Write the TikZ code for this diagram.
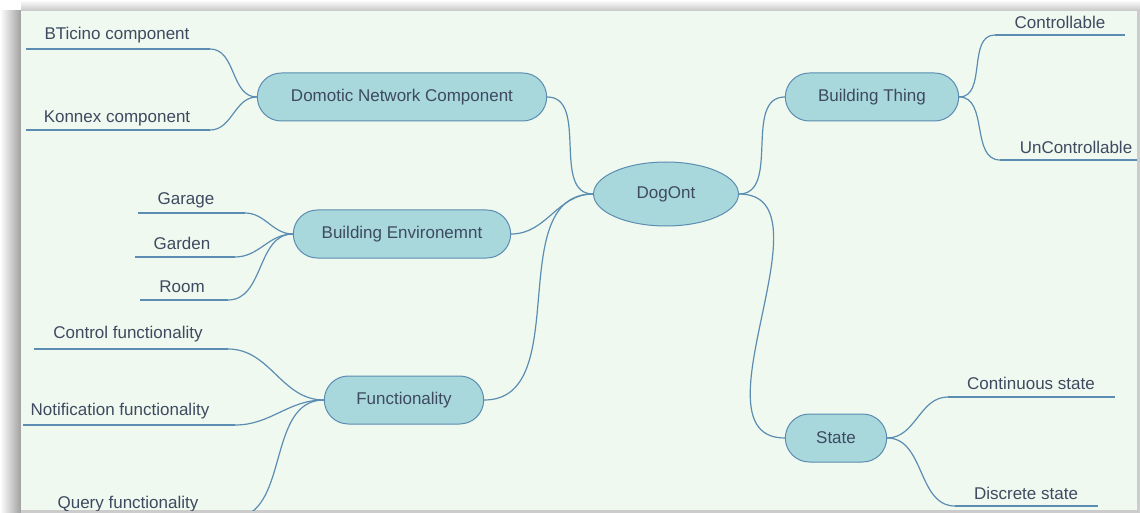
\documentclass[tikz,border=0pt]{standalone}
\usepackage{fontspec}
\setmainfont{Liberation Sans}
\usetikzlibrary{shapes.geometric,shapes.misc}
\definecolor{topicfill}{HTML}{A8D8DC}
\definecolor{edgeblue}{HTML}{5B8DB2}
\definecolor{inkgray}{HTML}{3D4A60}
\definecolor{panelbg}{HTML}{F0F9EF}

\begin{document}
\begin{tikzpicture}[x=1pt,y=-1pt,
        topic/.style={shape=rounded rectangle,draw=edgeblue,fill=topicfill,line width=1pt,
            minimum height=48pt,text=inkgray,font=\fontsize{17}{20}\selectfont},
        root/.style={shape=ellipse,draw=edgeblue,fill=topicfill,line width=1pt,
            minimum width=145pt,minimum height=64pt,text=inkgray,font=\fontsize{17}{20}\selectfont},
        leaf/.style={text=inkgray,font=\fontsize{17}{20}\selectfont,inner sep=0pt},
        link/.style={draw=edgeblue,line width=1.2pt}]

        % frame and shadow
        \useasboundingbox (0,0) rectangle (1140,513);
        \fill[white] (0,0) rectangle (1140,513);
        \shade[left color=white,right color=gray!75] (0,11) rectangle (21,513);
        \shade[top color=white,bottom color=gray!45] (21,0) rectangle (1140,11);
        \fill[gray!40] (1137,11) rectangle (1140,513);
        \fill[gray!40] (21,510) rectangle (1140,513);
        \fill[panelbg] (21,11) rectangle (1137,510);

        \begin{scope}
        \clip (21,11) rectangle (1137,510);

        % main topics
        \node[root] (dog) at (666,194) {DogOnt};
        \node[topic,minimum width=296pt] (dom)   at (402,97)  {Domotic Network Component};
        \node[topic,minimum width=180pt] (thing) at (872,97)  {Building Thing};
        \node[topic,minimum width=224pt] (env)   at (402,234) {Building Environemnt};
        \node[topic,minimum width=166pt] (func)  at (404,400) {Functionality};
        \node[topic,minimum width=108pt] (state) at (836,438) {State};

        % leaves
        \node[leaf] (btic)  at (117,35)  {BTicino component};
        \node[leaf] (knx)   at (117,118) {Konnex component};
        \node[leaf] (gar)   at (186,200) {Garage};
        \node[leaf] (gdn)   at (182,243) {Garden};
        \node[leaf] (room)  at (182,287) {Room};
        \node[leaf] (ctrl)  at (128,334) {Control functionality};
        \node[leaf] (notif) at (120,411) {Notification functionality};
        \node[leaf] (query) at (128,504) {Query functionality};
        \node[leaf] (cont)  at (1060,22) {Controllable};
        \node[leaf] (unc)   at (1076,147) {UnControllable};
        \node[leaf] (cst)   at (1031,383) {Continuous state};
        \node[leaf] (dst)   at (1026,493) {Discrete state};

        % underline ends
        \coordinate (btic-a)  at (26,49);   \coordinate (btic-b)  at (210,49);
        \coordinate (knx-a)   at (26,130);  \coordinate (knx-b)   at (210,130);
        \coordinate (gar-a)   at (138,213); \coordinate (gar-b)   at (245,213);
        \coordinate (gdn-a)   at (135,257); \coordinate (gdn-b)   at (235,257);
        \coordinate (room-a)  at (140,300); \coordinate (room-b)  at (228,300);
        \coordinate (ctrl-a)  at (34,349);  \coordinate (ctrl-b)  at (228,349);
        \coordinate (notif-a) at (23,425);  \coordinate (notif-b) at (235,425);
        \coordinate (query-a) at (50,518);  \coordinate (query-b) at (232,518);
        \coordinate (cont-a)  at (995,35);  \coordinate (cont-b)  at (1125,35);
        \coordinate (unc-a)   at (1000,160);\coordinate (unc-b)   at (1138,160);
        \coordinate (cst-a)   at (948,397); \coordinate (cst-b)   at (1115,397);
        \coordinate (dst-a)   at (955,506); \coordinate (dst-b)   at (1098,506);

        \draw[link] (btic-a) -- (btic-b);
        \draw[link] (knx-a) -- (knx-b);
        \draw[link] (gar-a) -- (gar-b);
        \draw[link] (gdn-a) -- (gdn-b);
        \draw[link] (room-a) -- (room-b);
        \draw[link] (ctrl-a) -- (ctrl-b);
        \draw[link] (notif-a) -- (notif-b);
        \draw[link] (query-a) -- (query-b);
        \draw[link] (cont-a) -- (cont-b);
        \draw[link] (unc-a) -- (unc-b);
        \draw[link] (cst-a) -- (cst-b);
        \draw[link] (dst-a) -- (dst-b);

        % branches
        \path[link] (dom.east) edge[out=0,in=180] (dog.west);
        \path[link] (env.east) edge[out=0,in=180] (dog.west);
        \path[link] (func.east) edge[out=0,in=180] (dog.west);
        \path[link] (dog.east) edge[out=0,in=180] (thing.west);
        \path[link] (dog.east) edge[out=0,in=180] (state.west);

        \path[link] (btic-b) edge[out=0,in=180] (dom.west);
        \path[link] (knx-b) edge[out=0,in=180] (dom.west);
        \path[link] (gar-b) edge[out=0,in=180] (env.west);
        \path[link] (gdn-b) edge[out=0,in=180] (env.west);
        \path[link] (room-b) edge[out=0,in=180] (env.west);
        \path[link] (ctrl-b) edge[out=0,in=180] (func.west);
        \path[link] (notif-b) edge[out=0,in=180] (func.west);
        \path[link] (query-b) edge[out=0,in=180] (func.west);
        \path[link] (thing.east) edge[out=0,in=180] (cont-a);
        \path[link] (thing.east) edge[out=0,in=180] (unc-a);
        \path[link] (state.east) edge[out=0,in=180] (cst-a);
        \path[link] (state.east) edge[out=0,in=180] (dst-a);
        \end{scope}
    \end{tikzpicture}
\end{document}
